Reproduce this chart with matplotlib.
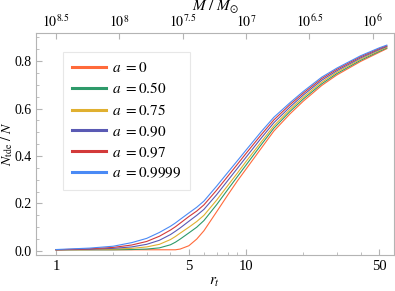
import numpy as np
import matplotlib
matplotlib.use('Agg')
import matplotlib.pyplot as plt
from matplotlib.ticker import FixedLocator, NullFormatter

plt.rcParams['font.family'] = ['Liberation Serif', 'DejaVu Serif']
plt.rcParams['mathtext.fontset'] = 'stix'

# tidal radius grid (r_t) and N_tde / N for each spin
r_t = [1, 1.5, 2, 2.5, 3, 3.5, 4, 4.25, 4.5, 5, 5.5, 6, 7, 8, 9, 10,
       12, 14, 17, 20, 25, 30, 40, 50, 55]

n_a0 = [0.005, 0.005, 0.005, 0.005, 0.005, 0.005, 0.005, 0.005, 0.008, 0.022,
        0.050, 0.085, 0.165, 0.235, 0.295, 0.345, 0.432, 0.505, 0.577, 0.631,
        0.697, 0.741, 0.798, 0.836, 0.852]
n_a050 = [0.005, 0.005, 0.005, 0.006, 0.008, 0.013, 0.026, 0.037, 0.050, 0.076,
          0.100, 0.128, 0.195, 0.258, 0.313, 0.362, 0.447, 0.517, 0.587, 0.640,
          0.704, 0.747, 0.803, 0.840, 0.855]
n_a075 = [0.005, 0.006, 0.008, 0.011, 0.017, 0.028, 0.048, 0.061, 0.075, 0.100,
          0.124, 0.150, 0.214, 0.275, 0.328, 0.377, 0.459, 0.527, 0.596, 0.648,
          0.711, 0.753, 0.808, 0.844, 0.858]
n_a090 = [0.005, 0.007, 0.011, 0.017, 0.028, 0.045, 0.069, 0.083, 0.097, 0.125,
          0.150, 0.175, 0.237, 0.296, 0.348, 0.395, 0.475, 0.540, 0.606, 0.657,
          0.719, 0.759, 0.813, 0.848, 0.861]
n_a097 = [0.005, 0.009, 0.015, 0.025, 0.040, 0.062, 0.088, 0.102, 0.117, 0.145,
          0.168, 0.194, 0.256, 0.314, 0.365, 0.411, 0.489, 0.552, 0.616, 0.665,
          0.726, 0.765, 0.818, 0.852, 0.864]
n_a9999 = [0.006, 0.012, 0.020, 0.035, 0.053, 0.078, 0.104, 0.118, 0.133, 0.160,
           0.184, 0.210, 0.273, 0.330, 0.380, 0.425, 0.502, 0.563, 0.624, 0.672,
           0.732, 0.770, 0.822, 0.855, 0.867]

series = [n_a0, n_a050, n_a075, n_a090, n_a097, n_a9999]
labels = [r'$a\,\,=0$', r'$a\,\,=0.50$', r'$a\,\,=0.75$', r'$a\,\,=0.90$',
          r'$a\,\,=0.97$', r'$a\,\,=0.9999$']
colors = ['#ff6a3a', '#2e9a6a', '#e0b030', '#5a5ab4', '#d33a3a', '#4a8af5']

# top axis: black hole mass, M = 10^8.5 * r_t^-1.5
m_exp = [8.5, 8, 7.5, 7, 6.5, 6]
m_labels = [r'$10^{8.5}$', r'$10^{8}$', r'$10^{7.5}$', r'$10^{7}$',
            r'$10^{6.5}$', r'$10^{6}$']

fig = plt.figure(figsize=(3.95, 2.91), dpi=100)
ax = fig.add_axes([0.0911, 0.1237, 0.9064, 0.7629])

handles = []
for y, lab, c in zip(series, labels, colors):
    h, = ax.plot(r_t, y, color=c, lw=0.8, label=lab)
    handles.append(h)

ax.set_xscale('log')
ax.set_xlim(0.785, 60)
ax.set_ylim(-0.017, 0.918)

ax.xaxis.set_major_locator(FixedLocator([1, 5, 10, 50]))
ax.set_xticklabels(['1', '5', '10', '50'])
ax.xaxis.set_minor_locator(FixedLocator([2, 3, 4, 6, 7, 8, 9, 20, 30, 40]))
ax.xaxis.set_minor_formatter(NullFormatter())
ax.set_yticks([0, 0.2, 0.4, 0.6, 0.8])
ax.set_yticklabels(['0.0', '0.2', '0.4', '0.6', '0.8'])
ax.yaxis.set_minor_locator(FixedLocator(np.arange(0, 0.91, 0.05)))

frame_col = '#b4b4b4'
for s in ax.spines.values():
    s.set_color(frame_col)
    s.set_linewidth(0.8)
ax.tick_params(which='both', direction='in', color=frame_col, labelsize=10.5,
               top=False, right=False)
ax.tick_params(axis='y', labelsize=10, pad=3)
ax.tick_params(which='major', length=4)
ax.tick_params(which='minor', length=2)

ax.set_xlabel(r'$r_t$', fontsize=11, labelpad=2)
ax.set_ylabel(r'$N_{\rm tde}\ /\ N$', fontsize=10, va='center')
ax.yaxis.set_label_coords(-0.08, 0.5)

ax2 = ax.twiny()
ax2.set_xscale('log')
ax2.set_xlim(ax.get_xlim())
ax2.xaxis.set_major_locator(FixedLocator([10 ** ((8.5 - e) / 1.5) for e in m_exp]))
ax2.set_xticklabels(m_labels)
ax2.xaxis.set_minor_locator(FixedLocator([]))
for s in ax2.spines.values():
    s.set_visible(False)
ax2.tick_params(which='both', direction='in', color=frame_col, labelsize=10,
                length=4, pad=2)
ax2.set_xlabel(r'$M\ /\ M_{\odot}$', fontsize=11, labelpad=2)

leg = ax.legend(handles=handles, loc='upper left', bbox_to_anchor=(0.075, 0.915),
                fontsize=11, frameon=True, fancybox=False, handlelength=2.2,
                handletextpad=0.4, labelspacing=0.42, borderpad=0.6,
                borderaxespad=0)
leg.get_frame().set_edgecolor('#e2e2e2')
leg.get_frame().set_linewidth(0.8)
for lh in leg.get_lines():
    lh.set_linewidth(2.2)

fig.savefig('out.png', dpi=100)
